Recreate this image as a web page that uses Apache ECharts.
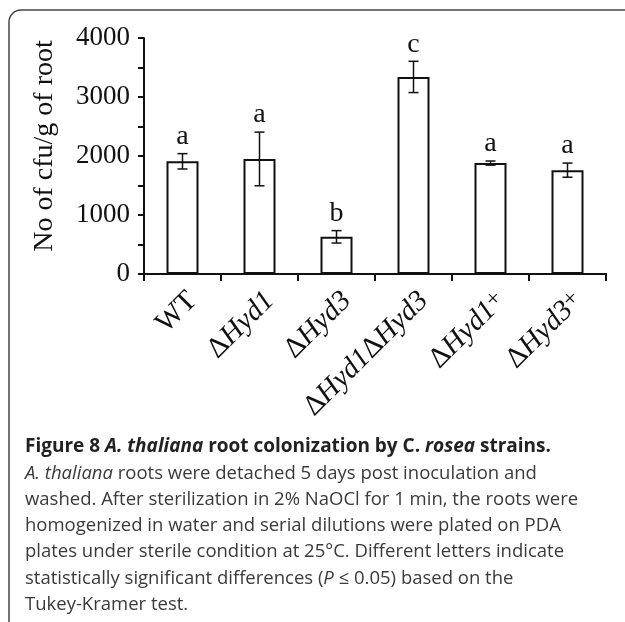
<!DOCTYPE html>
<html><head><meta charset="utf-8">
<script src="https://cdn.jsdelivr.net/npm/echarts@6/dist/echarts.min.js"></script>
<style>html,body{margin:0;padding:0;background:#fff}#c{width:625px;height:622px}</style>
</head><body><div id="c"></div>
<script>
var categories = ['WT', 'ΔHyd1', 'ΔHyd3', 'ΔHyd1ΔHyd3', 'ΔHyd1+', 'ΔHyd3+'];
var values = [1910, 1950, 630, 3340, 1880, 1760];
var errors = [130, 455, 105, 265, 35, 120];
var letters = ['a', 'a', 'b', 'c', 'a', 'a'];
var yTicks = [0, 1000, 2000, 3000, 4000];

var SERIF = '"Liberation Serif", "Times New Roman", serif';
var SANS = '"Open Sans", "Noto Sans", sans-serif';

var errData = categories.map(function (c, i) {
  return [i, values[i] - errors[i], values[i] + errors[i], letters[i]];
});

function fmtCat(s) {
  return s.replace(/(Hyd\d)/g, '{i|$1}').replace(/\+$/, '{s|+}');
}

var chart = echarts.init(document.getElementById('c'), null, {renderer: 'canvas'});
var captionColor = '#3a3a3a';
var capY0 = 447, capDy = 26.3, capX = 25, capSize = 18.5;
function capLine(k, text, rich) {
  return {
    type: 'text', x: capX, y: capY0 + k * capDy,
    style: {
      text: text, fontFamily: SANS, fontSize: capSize, fill: captionColor,
      verticalAlign: 'middle', align: 'left', rich: rich || {}
    }
  };
}
var boldRich = {
  b: {fontFamily: SANS, fontSize: 19, fontWeight: 'bold', fill: '#222'},
  bi: {fontFamily: SANS, fontSize: 19, fontWeight: 'bold', fontStyle: 'italic', fill: '#222'}
};
var itRich = {
  it: {fontFamily: SANS, fontSize: capSize, fontStyle: 'italic', fill: captionColor}
};
var frameStyle = {fill: 'none', stroke: '#444', lineWidth: 1.5};

chart.setOption({
  animation: false,
  backgroundColor: '#fff',
  grid: {left: 144, right: 19, top: 38, bottom: 348, containLabel: false, outerBoundsMode: 'none'},
  xAxis: {
    type: 'category',
    data: categories,
    boundaryGap: true,
    axisLine: {show: true, lineStyle: {color: '#111', width: 2}},
    axisTick: {show: true, inside: false, length: 7, alignWithLabel: false, lineStyle: {color: '#111', width: 2}},
    axisLabel: {
      rotate: 45, interval: 0, margin: 12, color: '#111',
      fontFamily: SERIF, fontSize: 29, verticalAlign: 'top',
      formatter: fmtCat,
      rich: {
        i: {fontFamily: SERIF, fontSize: 29, fontStyle: 'italic', color: '#111'},
        s: {fontFamily: SERIF, fontSize: 24, color: '#111', padding: [0, 0, 6, 0]}
      }
    },
    splitLine: {show: false}
  },
  yAxis: {
    type: 'value', min: 0, max: 4000, interval: 500,
    axisLine: {show: true, lineStyle: {color: '#111', width: 2}},
    axisTick: {show: true, inside: false, length: 6, lineStyle: {color: '#111', width: 2}},
    axisLabel: {
      color: '#111', fontFamily: SERIF, fontSize: 27, margin: 14,
      formatter: function (v) { return yTicks.indexOf(v) >= 0 ? String(v) : ''; }
    },
    splitLine: {show: false}
  },
  series: [
    {
      type: 'bar', data: values, barWidth: 32,
      itemStyle: {color: '#fff', borderColor: '#111', borderWidth: 2},
      silent: true
    },
    {
      type: 'custom', data: errData, encode: {x: 0, y: [1, 2]}, z: 10,
      renderItem: function (params, api) {
        var x = api.value(0);
        var lo = api.coord([x, api.value(1)]);
        var hi = api.coord([x, api.value(2)]);
        var w = 5;
        var st = {stroke: '#111', lineWidth: 1.5};
        return {
          type: 'group',
          children: [
            {type: 'line', shape: {x1: lo[0], y1: lo[1], x2: hi[0], y2: hi[1]}, style: st},
            {type: 'line', shape: {x1: lo[0] - w, y1: lo[1], x2: lo[0] + w, y2: lo[1]}, style: st},
            {type: 'line', shape: {x1: hi[0] - w, y1: hi[1], x2: hi[0] + w, y2: hi[1]}, style: st},
            {type: 'text', x: hi[0], y: hi[1] - 3, style: {
              text: letters[params.dataIndex], fontFamily: SERIF, fontSize: 28, fill: '#111',
              align: 'center', verticalAlign: 'bottom'}}
          ]
        };
      }
    }
  ],
  graphic: [
    {type: 'line', shape: {x1: 9, y1: 622, x2: 9, y2: 22}, style: frameStyle},
    {type: 'arc', shape: {cx: 21, cy: 22, r: 12, startAngle: Math.PI, endAngle: Math.PI * 1.5}, style: frameStyle},
    {type: 'line', shape: {x1: 21, y1: 10, x2: 625, y2: 10}, style: frameStyle},
    {type: 'text', x: 45, y: 146, rotation: Math.PI / 2,
      style: {text: 'No of cfu/g of root', fontFamily: SERIF, fontSize: 28, fill: '#111',
        align: 'center', verticalAlign: 'middle'}},
    capLine(0, '{b|Figure 8 }{bi|A. thaliana}{b| root colonization by C. }{bi|rosea}{b| strains.}', boldRich),
    capLine(1, '{it|A. thaliana} roots were detached 5 days post inoculation and', itRich),
    capLine(2, 'washed. After sterilization in 2% NaOCl for 1 min, the roots were'),
    capLine(3, 'homogenized in water and serial dilutions were plated on PDA'),
    capLine(4, 'plates under sterile condition at 25°C. Different letters indicate'),
    capLine(5, 'statistically significant differences ({it|P} ≤ 0.05) based on the', itRich),
    capLine(6, 'Tukey-Kramer test.')
  ]
});
</script></body></html>
